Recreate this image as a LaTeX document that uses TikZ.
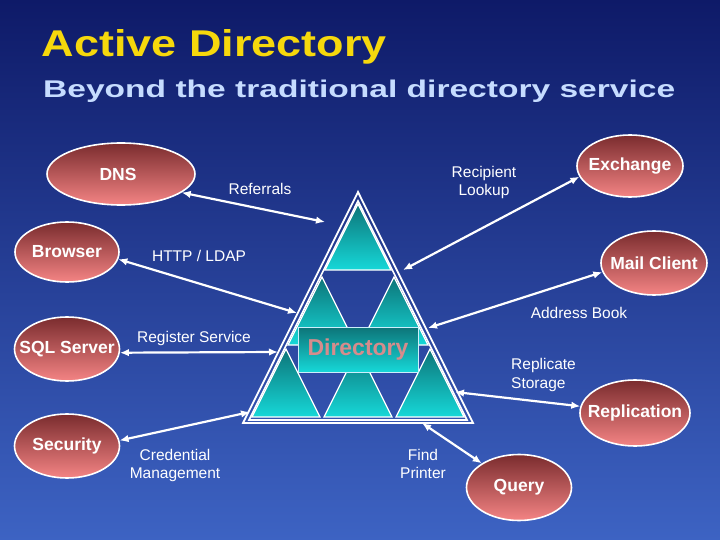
\documentclass[tikz,border=0pt]{standalone}
\usepackage{fontspec}
\setmainfont{Liberation Sans}
\usetikzlibrary{shapes.geometric,arrows.meta}
\definecolor{bgTop}{HTML}{0E1A68}
\definecolor{bgMid}{HTML}{2641A4}
\definecolor{bgBot}{HTML}{3D63C3}
\definecolor{ellTop}{HTML}{7A2C2E}
\definecolor{ellBot}{HTML}{F48484}
\definecolor{triTop}{HTML}{0D7478}
\definecolor{triBot}{HTML}{16D8D8}
\definecolor{titleYellow}{HTML}{F6D80C}
\definecolor{subBlue}{HTML}{C6DCFF}
\definecolor{dirText}{HTML}{D68C8C}
\begin{document}
\begin{tikzpicture}[x=1pt,y=-1pt,
  elli/.style={ellipse, draw=white, line width=1.6pt, top color=ellTop, bottom color=ellBot,
    inner sep=0pt, text=white, font=\fontsize{17.5}{20}\selectfont\bfseries},
  lbl/.style={text=white, font=\fontsize{15.5}{18.5}\selectfont, align=center, inner sep=0pt},
  arr/.style={draw=white, line width=2.2pt, {Latex[length=9pt,width=7.5pt]}-{Latex[length=9pt,width=7.5pt]}},
  tri/.style={draw=white, line width=1.3pt, top color=triTop, bottom color=triBot}]
\useasboundingbox (0,0) rectangle (720,540);
\shade[top color=bgTop, middle color=bgMid, bottom color=bgBot] (0,0) rectangle (720,540);

% titles
\node[anchor=base west, inner sep=0pt, text=titleYellow] (title) at (41.5,57)
  {\resizebox{345pt}{27pt}{\bfseries Active Directory}};
\node[anchor=base west, inner sep=0pt, text=subBlue] (subtitle) at (43,97.5)
  {\resizebox{632pt}{17.5pt}{\bfseries Beyond the traditional directory service}};

% big triangle (double outline)
\draw[white, line width=1.8pt, line join=miter] (358,192) -- (243,423) -- (473,423) -- cycle;
\draw[white, line width=1.6pt, line join=miter] (358,201) -- (249,420) -- (467,420) -- cycle;

% sub triangles
\shade[tri] (358,204) -- (325,270) -- (391,270) -- cycle;
\shade[tri] (322,277) -- (288,345) -- (356,345) -- cycle;
\shade[tri] (394,277) -- (360,345) -- (428,345) -- cycle;
\shade[tri] (286,349) -- (252,417) -- (320,417) -- cycle;
\shade[tri] (358,349) -- (324,417) -- (392,417) -- cycle;
\shade[tri] (430,349) -- (396,417) -- (464,417) -- cycle;

% directory box
\node[draw=white!80!cyan, line width=0.8pt, top color=triTop, bottom color=triBot,
  minimum width=120, minimum height=45, inner sep=0pt, text=dirText,
  font=\fontsize{23}{26}\selectfont\bfseries] (dir) at (358,349.5) {Directory};

% ellipses (text does not change the size)
\node[elli, minimum width=148, minimum height=62] (dns) at (121,174) {\makebox[0pt]{DNS\kern6pt}};
\node[elli, minimum width=104, minimum height=60] (browser) at (67,252) {\makebox[0pt]{Browser}};
\node[elli, minimum width=105, minimum height=64] (sql) at (67,349) {\makebox[0pt]{SQL Server}};
\node[elli, minimum width=105, minimum height=64] (sec) at (67,446) {\makebox[0pt]{Security}};
\node[elli, minimum width=106, minimum height=62] (exch) at (630,166) {\makebox[0pt]{Exchange}};
\node[elli, minimum width=106, minimum height=64] (mail) at (654,263) {\makebox[0pt]{Mail Client}};
\node[elli, minimum width=110, minimum height=66] (repl) at (635,413) {\makebox[0pt]{Replication}};
\node[elli, minimum width=105, minimum height=66] (query) at (519,487.5) {\makebox[0pt]{Query}};

% connector ends on the triangle
\coordinate (tdns) at (325,222);
\coordinate (tbrowser) at (297,313);
\coordinate (tsql) at (278,352);
\coordinate (tsec) at (250,412);
\coordinate (texch) at (403,270);
\coordinate (tmail) at (428,328);
\coordinate (trepl) at (455,392);
\coordinate (tquery) at (422,423);

\draw[arr] (dns.-17) -- (tdns);
\draw[arr] (browser.-8) -- (tbrowser);
\draw[arr] (sql.-4) -- (tsql);
\draw[arr] (sec.6) -- (tsec);
\draw[arr] (exch.192) -- (texch);
\draw[arr] (mail.190) -- (tmail);
\draw[arr] (repl.173) -- (trepl);
\draw[arr] (query.147) -- (tquery);

% labels
\node[lbl] (lref) at (260,189) {Referrals};
\node[lbl] (lhttp) at (199,256) {HTTP / LDAP};
\node[lbl] (lrec) at (484,182.5) {Recipient\\Lookup};
\node[lbl] (laddr) at (579,313) {Address Book};
\node[lbl] (lreg) at (194,338) {Register Service};
\node[lbl, align=left, anchor=west] (lrep) at (511,375) {Replicate\\Storage};
\node[lbl] (lcred) at (175,465.5) {Credential\\Management};
\node[lbl] (lfind) at (423,464) {Find\\Printer};
\end{tikzpicture}
\end{document}
